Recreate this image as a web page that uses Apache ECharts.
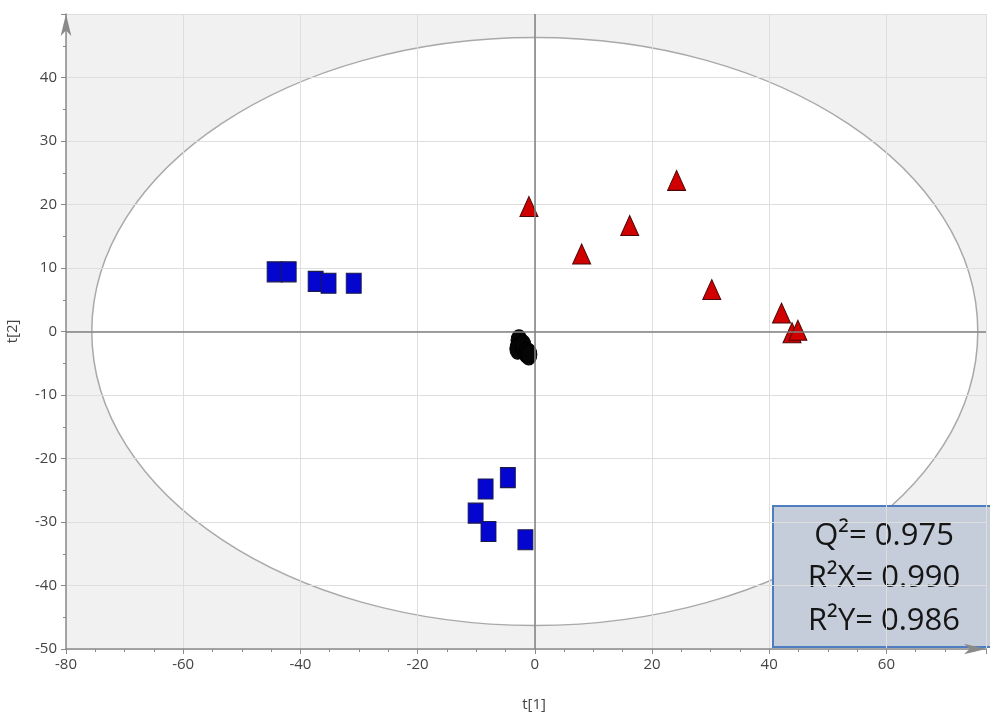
<!DOCTYPE html>
<html>
<head>
<meta charset="utf-8">
<script src="https://cdn.jsdelivr.net/npm/echarts@6/dist/echarts.min.js"></script>
<style>
  html, body { margin: 0; padding: 0; background: #fff; }
  #chart { width: 990px; height: 714px; }
</style>
</head>
<body>
<div id="chart"></div>
<script>
// 散点数据 [t1, t2]
var groupBlue = [
    [-44.4, 9.4], [-42.0, 9.4], [-37.4, 7.9], [-35.2, 7.6], [-30.9, 7.6],
    [-4.6, -23.0], [-8.4, -24.8], [-10.1, -28.6], [-7.9, -31.5], [-1.6, -32.8]
];
var groupRed = [
    [-1.0, 19.7], [8.0, 12.2], [16.2, 16.7], [24.2, 23.8], [30.2, 6.6],
    [42.1, 2.9], [43.9, -0.2], [44.9, 0.2]
];
var groupBlack = [
    [-2.7, -1.4], [-2.9, -2.7], [-2.0, -2.2], [-1.4, -3.3], [-1.0, -3.6]
];
// Hotelling T2 椭圆: 中心和半轴
var ellipseCenter = [0, 0];
var ellipseRadii = [75.6, 46.3];
// 模型参数
var statLines = ['Q\u00b2= 0.975', 'R\u00b2X= 0.990', 'R\u00b2Y= 0.986'];

var axisColor = '#8a8a8a';
var labelStyle = { color: '#444', fontSize: 15, fontFamily: 'Open Sans' };

var myChart = echarts.init(document.getElementById('chart'));
myChart.setOption({
    animation: false,
    grid: {
        show: true,
        backgroundColor: '#f1f1f1',
        borderWidth: 0,
        left: 66,
        right: 4,
        top: 14,
        bottom: 65,
        outerBoundsMode: 'none',
        containLabel: false,
        z: -2
    },
    xAxis: {
        type: 'value',
        min: -80,
        max: 77,
        interval: 20,
        name: 't[1]',
        nameLocation: 'middle',
        nameGap: 48,
        nameTextStyle: { color: '#444', fontSize: 15, fontFamily: 'Open Sans', padding: [0, 0, 0, 16] },
        axisLine: {
            onZero: false,
            symbol: ['none', 'arrow'],
            symbolSize: [8, 22],
            symbolOffset: [0, 0],
            lineStyle: { color: axisColor, width: 1.5 }
        },
        axisTick: { length: 5, lineStyle: { color: axisColor } },
        minorTick: { show: true, splitNumber: 4, length: 3, lineStyle: { color: axisColor } },
        splitLine: { show: true, lineStyle: { color: '#dedede' } },
        axisLabel: Object.assign({ margin: 8, showMaxLabel: false }, labelStyle)
    },
    yAxis: {
        type: 'value',
        min: -50,
        max: 50,
        interval: 10,
        name: 't[2]',
        nameLocation: 'middle',
        nameGap: 46,
        nameTextStyle: { color: '#444', fontSize: 15, fontFamily: 'Open Sans' },
        axisLine: {
            onZero: false,
            symbol: ['none', 'arrow'],
            symbolSize: [8, 22],
            symbolOffset: [0, 0],
            lineStyle: { color: axisColor, width: 1.5 }
        },
        axisTick: { length: 5, lineStyle: { color: axisColor } },
        minorTick: { show: true, splitNumber: 2, length: 3, lineStyle: { color: axisColor } },
        splitLine: { show: true, lineStyle: { color: '#dedede' } },
        axisLabel: Object.assign({ margin: 9, showMaxLabel: false }, labelStyle)
    },
    series: [
        {
            type: 'custom',
            z: -1,
            silent: true,
            data: [[ellipseCenter[0], ellipseCenter[1], ellipseRadii[0], ellipseRadii[1]]],
            renderItem: function (params, api) {
                var c = api.coord([api.value(0), api.value(1)]);
                var rx = api.size([api.value(2), 0])[0];
                var ry = api.size([0, api.value(3)])[1];
                return {
                    type: 'ellipse',
                    shape: { cx: c[0], cy: c[1], rx: rx, ry: ry },
                    style: { fill: '#fff', stroke: '#a9a9a9', lineWidth: 1.5 }
                };
            }
        },
        {
            type: 'scatter',
            data: groupBlack,
            symbol: 'circle',
            symbolSize: [16, 21],
            itemStyle: { color: '#050505', borderColor: '#000', borderWidth: 1, opacity: 1 },
            markLine: {
                silent: true,
                symbol: 'none',
                label: { show: false },
                lineStyle: { color: '#808080', width: 1.5, type: 'solid' },
                data: [{ xAxis: 0 }, { yAxis: 0 }]
            }
        },
        {
            type: 'scatter',
            data: groupBlue,
            symbol: 'rect',
            symbolSize: [15, 20],
            itemStyle: { color: '#0505d0', borderColor: '#1c1c48', borderWidth: 1, opacity: 1 }
        },
        {
            type: 'scatter',
            data: groupRed,
            symbol: 'triangle',
            symbolSize: [18, 20],
            itemStyle: { color: '#d00000', borderColor: '#4a0808', borderWidth: 1, opacity: 1 }
        }
    ],
    graphic: [{
        type: 'group',
        left: 772,
        top: 505,
        z: 10,
        children: [
            {
                type: 'rect',
                shape: { x: 0, y: 0, width: 230, height: 141 },
                style: { fill: '#c6cdda', stroke: '#4f7dc2', lineWidth: 2 }
            }
        ].concat(statLines.map(function (t, i) {
            return {
                type: 'text',
                x: 111,
                y: 30 + i * 42.5,
                style: {
                    text: t,
                    fill: '#151515',
                    font: '31px "Open Sans"',
                    textAlign: 'center',
                    textVerticalAlign: 'middle'
                }
            };
        }))
    }]
});
</script>
</body>
</html>
